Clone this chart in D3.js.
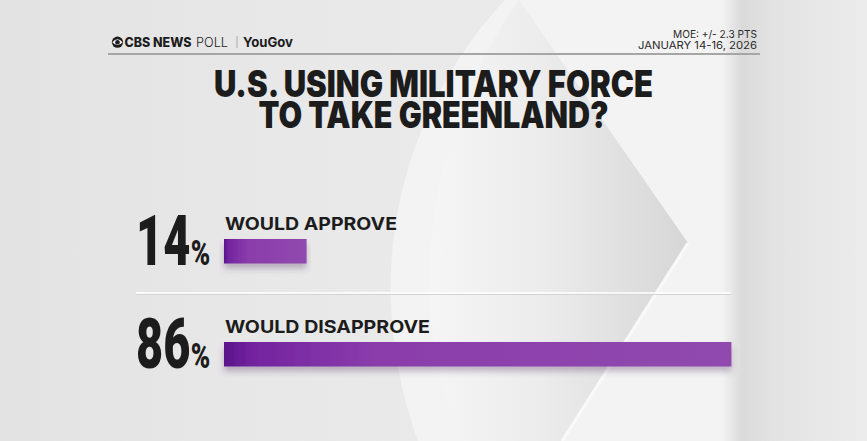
<!DOCTYPE html>
<html><head><meta charset="utf-8">
<script src="https://cdn.jsdelivr.net/npm/d3@7/dist/d3.min.js"></script>
<style>html,body{margin:0;padding:0;background:#e6e6e6;}svg{display:block;}</style>
</head><body>
<script>
const categories = ["WOULD APPROVE", "WOULD DISAPPROVE"];
const values = [14, 86];
const titleLines = ["U.S. USING MILITARY FORCE", "TO TAKE GREENLAND?"];
const metaLines = ["MOE: +/- 2.3 PTS", "JANUARY 14-16, 2026"];

const W = 867, H = 441;
const svg = d3.select("body").append("svg").attr("width", W).attr("height", H);
const defs = svg.append("defs");

function lin(id, x1, x2, stops, y1 = "0%", y2 = "0%", units) {
  const g = defs.append("linearGradient").attr("id", id)
    .attr("x1", x1).attr("x2", x2).attr("y1", y1).attr("y2", y2);
  if (units) g.attr("gradientUnits", units);
  stops.forEach(s => g.append("stop").attr("offset", s[0]).attr("stop-color", s[1]).attr("stop-opacity", s[2] == null ? 1 : s[2]));
}
lin("bg", "0%", "100%", [[0, "#e3e3e3"], [0.4, "#e9e9e9"], [1, "#ececec"]]);
lin("shade", 420, 690, [[0, "#f6f6f6"], [0.45, "#ececec"], [1, "#d6d6d6"]], 0, 0, "userSpaceOnUse");
lin("right", 722, 867, [[0, "#d8d8d8", 0], [0.14, "#dadada"], [0.35, "#e3e3e3"], [1, "#ececec"]], 0, 0, "userSpaceOnUse");
lin("bar", "0%", "100%", [[0, "#5a148a"], [0.06, "#7424a0"], [0.3, "#8a3dab"], [1, "#9049ae"]]);
const f = defs.append("filter").attr("id", "sh").attr("x", "-5%").attr("y", "-30%").attr("width", "110%").attr("height", "190%");
f.append("feDropShadow").attr("dx", 0).attr("dy", 5).attr("stdDeviation", 3)
  .attr("flood-color", "#5a3a6a").attr("flood-opacity", 0.35);

// background
svg.append("rect").attr("width", W).attr("height", H).attr("fill", "url(#bg)");
svg.append("path").attr("d", "M505,0 C420,90 350,250 418,441 L745,441 L745,0 Z").attr("fill", "#f3f3f3");
svg.append("path").attr("d", "M519,0 C440,110 395,290 462,441 L562,441 L688,243 Z").attr("fill", "url(#shade)");
svg.append("path").attr("d", "M688,243 L562,441").attr("stroke", "#fbfbfb").attr("stroke-width", 3).attr("opacity", 0.9);
svg.append("rect").attr("x", 722).attr("y", 0).attr("width", W - 722).attr("height", H).attr("fill", "url(#right)");

// header
const ink = "#1c1c1c";
svg.append("line").attr("x1", 108).attr("x2", 760).attr("y1", 54).attr("y2", 54)
  .attr("stroke", "#a6a6a6").attr("stroke-width", 2);
// CBS eye
svg.append("circle").attr("cx", 117.5).attr("cy", 42.2).attr("r", 5.6).attr("fill", ink);
svg.append("path").attr("d", "M112.3,42.2 Q117.5,36.4 122.7,42.2 Q117.5,48 112.3,42.2 Z").attr("fill", "#f2f2f2");
svg.append("circle").attr("cx", 117.5).attr("cy", 42.2).attr("r", 2.3).attr("fill", ink);
const logo = svg.append("g").attr("font-family", "Inter, sans-serif").attr("fill", ink);
logo.append("text").attr("x", 124.5).attr("y", 47).attr("font-size", 13).attr("font-weight", 800)
  .attr("textLength", 67).attr("lengthAdjust", "spacingAndGlyphs").text("CBS NEWS");
logo.append("text").attr("x", 196).attr("y", 47).attr("font-size", 13).attr("font-weight", 300)
  .attr("textLength", 32).attr("lengthAdjust", "spacingAndGlyphs").text("POLL");
svg.append("line").attr("x1", 237).attr("x2", 237).attr("y1", 36).attr("y2", 48).attr("stroke", "#aaa").attr("stroke-width", 1);
logo.append("text").attr("x", 243).attr("y", 47).attr("font-size", 13).attr("font-weight", 700)
  .attr("textLength", 50).attr("lengthAdjust", "spacingAndGlyphs").text("YouGov");

const metaW = [84, 119], metaY = [38, 49];
svg.append("g").selectAll("text").data(metaLines).join("text")
  .attr("x", 757).attr("y", (d, i) => metaY[i]).attr("text-anchor", "end")
  .attr("font-family", "Inter, sans-serif").attr("font-size", 10.6).attr("fill", "#2a2a2a")
  .attr("textLength", (d, i) => metaW[i]).attr("lengthAdjust", "spacingAndGlyphs").text(d => d);

// title
const titleW = [439, 350], titleY = [97, 128];
svg.append("g").selectAll("text").data(titleLines).join("text")
  .attr("x", 433.5).attr("y", (d, i) => titleY[i]).attr("text-anchor", "middle")
  .attr("font-family", "Inter, sans-serif").attr("font-weight", 900).attr("font-size", 36.5).attr("fill", ink)
  .attr("textLength", (d, i) => titleW[i]).attr("lengthAdjust", "spacingAndGlyphs").text(d => d);

// separator
svg.append("line").attr("x1", 136).attr("x2", 731).attr("y1", 294.5).attr("y2", 294.5).attr("stroke", "#d4d4d4").attr("stroke-width", 1);
svg.append("line").attr("x1", 136).attr("x2", 731).attr("y1", 293).attr("y2", 293).attr("stroke", "#ffffff").attr("stroke-width", 1.5);

// scales
const x = d3.scaleLinear().domain([0, 100]).range([224, 814]);
const y = d3.scalePoint().domain(categories).range([239, 342]);
const bh = 24.5;
const data = categories.map((c, i) => ({ c, v: values[i] }));

const rows = svg.append("g").selectAll("g").data(data).join("g");
rows.append("rect").attr("x", x(0)).attr("y", d => y(d.c)).attr("height", bh)
  .attr("width", d => x(d.v) - x(0)).attr("fill", "url(#bar)").attr("filter", "url(#sh)");
const labW = { "WOULD APPROVE": 172, "WOULD DISAPPROVE": 205 };
rows.append("text").attr("x", 225).attr("y", d => y(d.c) - 9.5)
  .attr("font-family", "Inter, sans-serif").attr("font-weight", 700).attr("font-size", 17.5).attr("fill", ink)
  .attr("textLength", d => labW[d.c]).attr("lengthAdjust", "spacingAndGlyphs").text(d => d.c);

const sx = 0.66;
rows.each(function (d) {
  const g = d3.select(this);
  const base = y(d.c) + 26;
  const num = g.append("text").attr("x", 0).attr("y", 0)
    .attr("font-family", "Roboto, sans-serif").attr("font-weight", 900).attr("font-size", 71).attr("fill", ink)
    .attr("transform", `translate(136,${base}) scale(${sx},1)`).text(d.v);
  const w = num.node().getComputedTextLength() * sx;
  g.append("text").attr("x", 0).attr("y", 0)
    .attr("font-family", "Roboto, sans-serif").attr("font-weight", 900).attr("font-size", 35).attr("fill", ink)
    .attr("transform", `translate(${136 + w + 0.5},${base}) scale(0.75,1)`).text("%");
});
</script>
</body></html>
